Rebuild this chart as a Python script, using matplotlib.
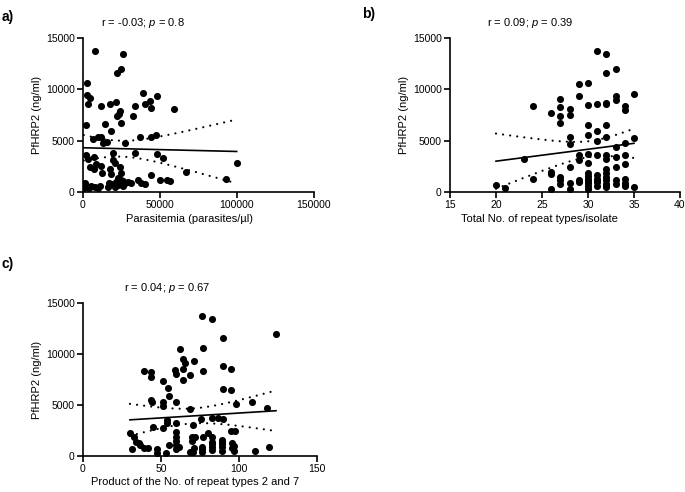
import numpy as np
import matplotlib
matplotlib.use("Agg")
import matplotlib.pyplot as plt

plt.rcParams['font.family'] = ['Liberation Sans', 'DejaVu Sans']
plt.rcParams['mathtext.fontset'] = 'custom'
plt.rcParams['mathtext.rm'] = 'Liberation Sans'
plt.rcParams['mathtext.it'] = 'Liberation Sans:italic'

# panel a: parasitemia vs PfHRP2
para_a = [8000, 26000, 24900, 22300, 2800, 2800, 4300, 3200, 11500, 17300,
          21700, 39000, 48300, 34000, 40000, 43300, 44000, 59100, 24200, 23500,
          22300, 32500, 2100, 14100, 24500, 18000, 6500, 9700, 11900, 13000,
          15800, 27100, 36800, 44400, 47600, 2100, 6900, 8600, 11900, 7100,
          12500, 19500, 19500, 20600, 23800, 34000, 48100, 52000, 17300, 18400,
          24500, 44000, 49800, 54700, 56300, 66900, 92700, 99800, 1100, 3200,
          5400, 7600, 9700, 16200, 18400, 21600, 22700, 24900, 27100, 29200,
          31400, 35700, 37900, 40100, 20600, 4800, 3500, 1300, 23000, 26200,
          500, 4100, 10800, 17000, 26000]
hrp_a = [13730, 13440, 11980, 11560, 10590, 9450, 9120, 8540, 8380, 8570,
         8800, 9610, 9380, 8340, 8570, 8890, 8210, 8050, 7920, 7600,
         7400, 7430, 6530, 6620, 6690, 5970, 5160, 5390, 5390, 4740,
         4900, 4740, 5330, 5390, 5550, 3600, 3440, 2700, 2530, 2210,
         1880, 3770, 3120, 2790, 2470, 3770, 3670, 3280, 2210, 1720,
         1820, 1660, 1170, 1170, 1100, 1920, 1270, 2860, 680, 520,
         580, 520, 360, 520, 780, 1000, 680, 1170, 910, 1000,
         850, 1170, 910, 780, 460, 2400, 3180, 910, 1330, 1100,
         420, 400, 560, 900, 600]

# panel b: total number of repeat types per isolate
rep_b = [20, 21, 23, 24, 24, 26, 26, 26, 26,
         27, 27, 27, 27, 27, 27, 27,
         28, 28, 28, 28, 28, 28, 28,
         29, 29, 29, 29, 29, 29,
         30, 30, 30, 30, 30, 30, 30, 30, 30, 30, 30, 30, 30,
         31, 31, 31, 31, 31, 31, 31, 31, 31, 31,
         32, 32, 32, 32, 32, 32, 32, 32, 32, 32, 32, 32, 32, 32, 32,
         33, 33, 33, 33, 33, 33, 33, 33,
         34, 34, 34, 34, 34, 34, 34, 34, 34,
         35, 35, 35]
hrp_b = [720, 420, 3260, 8380, 1240, 7730, 1960, 1800, 330,
         9060, 8250, 7430, 6680, 1470, 1140, 750,
         8050, 7500, 5310, 4660, 2440, 880, 330,
         10530, 9390, 3590, 3160, 1140, 980,
         10600, 8480, 6490, 5570, 3680, 2840, 1860, 1560, 1240, 880, 550, 330, 1050,
         13760, 8540, 5970, 4990, 3590, 1630, 1300, 980, 590, 1100,
         13460, 11570, 8700, 8540, 6520, 5380, 3590, 3260, 2280, 1860, 1470, 1140, 820, 490, 650,
         12000, 9360, 8970, 4400, 3420, 2450, 1140, 750,
         8380, 7990, 4730, 3590, 2770, 1240, 910, 550, 700,
         9550, 5220, 490]

# panel c: product of the number of repeat types 2 and 7
prod_c = [76, 82.5, 123.7, 89.5, 62.2, 76.7, 63.9, 65.4, 71.2, 76.7,
          39.3, 43.6, 43.6, 59.0, 59.4, 63.9, 68.6, 63.9, 51.1, 54.3,
          55.1, 89.5, 94.7, 89.5, 94.7, 43.6, 44.4, 51.1, 51.1, 59.4,
          68.6, 97.9, 108.1, 118.2, 54.0, 53.6, 59.6, 70.7, 75.6, 82.9,
          86.7, 89.5, 44.7, 51.1, 59.4, 59.4, 59.4, 69.7, 72.0, 76.7,
          30.1, 32.7, 33.8, 35.9, 31.6, 36.5, 39.1, 41.9, 47.2, 47.6,
          53.2, 55.3, 59.6, 61.7, 68.6, 70.7, 71.2, 76.1, 76.1, 94.7,
          97.4, 79.9, 82.5, 82.5, 82.5, 82.5, 88.9, 88.9, 88.9, 88.9,
          95.3, 97, 97, 110.3, 119.2, 82.5, 88.9, 76.1, 95.3, 59.4, 69.7]
hrp_c = [13730, 13430, 11960, 11540, 10460, 10560, 9480, 9090, 9310, 8370,
         8330, 8200, 7710, 8430, 8040, 8530, 7940, 7450, 7380, 6630,
         5910, 8820, 8530, 6540, 6470, 5490, 5320, 5320, 4900, 5320,
         4580, 5100, 5320, 4740, 3530, 3200, 3200, 3040, 3600, 3690,
         3690, 3600, 2810, 2710, 2390, 1900, 1470, 1900, 1900, 1900,
         2290, 1900, 1400, 1240, 690, 1080, 820, 750, 690, 330,
         260, 1080, 1080, 910, 420, 420, 820, 910, 420, 2450,
         2450, 2220, 1900, 1400, 910, 590, 1570, 1180, 850, 520,
         1240, 1010, 520, 490, 910, 1150, 1350, 650, 800, 700, 1500]

titles = ["r = -0.03; $p$ = 0.8", "r = 0.09; $p$ = 0.39", "r = 0.04; $p$ = 0.67"]
xlabels = ["Parasitemia (parasites/µl)", "Total No. of repeat types/isolate",
           "Product of the No. of repeat types 2 and 7"]
letters = ["a)", "b)", "c)"]
xlims = [(0, 150000), (15, 40), (0, 150)]
xticks = [[0, 50000, 100000, 150000], [15, 20, 25, 30, 35, 40], [0, 50, 100, 150]]
T_CRIT = 1.985  # two-sided 95%, n ~ 90

fig = plt.figure(figsize=(6.85, 4.92), dpi=100)
W, H = 685, 492


def box(l, r, t, b):
    return [l / W, 1 - b / H, (r - l) / W, (b - t) / H]


axes = [fig.add_axes(box(83, 314, 38, 192)),
        fig.add_axes(box(450, 680, 38, 192)),
        fig.add_axes(box(83, 317, 303, 456))]
data = [(para_a, hrp_a), (rep_b, hrp_b), (prod_c, hrp_c)]
title_x = [0.26, 0.35, 0.36]
xlabel_x = [0.46, 0.39, 0.48]

for i, ax in enumerate(axes):
    x = np.array(data[i][0], dtype=float)
    y = np.array(data[i][1], dtype=float)
    ax.scatter(x, y, s=26, color='black', zorder=3, linewidths=0)

    # linear fit with 95% confidence band
    slope, icpt = np.polyfit(x, y, 1)
    n = len(x)
    resid = y - (slope * x + icpt)
    s = np.sqrt(np.sum(resid ** 2) / (n - 2))
    sxx = np.sum((x - x.mean()) ** 2)
    xs = np.linspace(x.min(), x.max(), 200)
    ys = slope * xs + icpt
    half = T_CRIT * s * np.sqrt(1 / n + (xs - x.mean()) ** 2 / sxx)
    ax.plot(xs, ys, color='black', lw=1.2, zorder=2)
    for band in (ys + half, ys - half):
        ax.plot(xs, band, color='black', lw=1.6, linestyle=(0, (0.01, 3.2)),
                dash_capstyle='round', zorder=2)

    ax.set_xlim(*xlims[i])
    ax.set_ylim(0, 15000)
    ax.set_xticks(xticks[i])
    ax.set_yticks([0, 5000, 10000, 15000])
    for side in ('top', 'right'):
        ax.spines[side].set_visible(False)
    for side in ('left', 'bottom'):
        ax.spines[side].set_linewidth(1.2)
    ax.tick_params(direction='out', length=4, width=1.2, labelsize=7.5, pad=2)
    ax.set_ylabel("PfHRP2 (ng/ml)", fontsize=8, labelpad=3)
    ax.set_xlabel(xlabels[i], fontsize=8, labelpad=3)
    ax.xaxis.set_label_coords(xlabel_x[i], -0.14)
    ax.text(title_x[i], 1.05, titles[i], transform=ax.transAxes,
            ha='center', va='bottom', fontsize=8)

fig.text(2 / W, 1 - 17 / H, letters[0], fontsize=10, fontweight='bold', va='center')
fig.text(362 / W, 1 - 14 / H, letters[1], fontsize=10, fontweight='bold', va='center')
fig.text(2 / W, 1 - 264 / H, letters[2], fontsize=10, fontweight='bold', va='center')

fig.savefig("out.png", dpi=100)
